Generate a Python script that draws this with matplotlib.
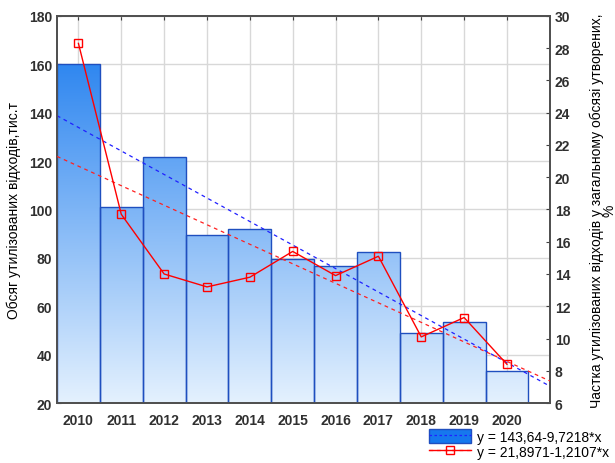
import matplotlib.pyplot as plt
import numpy as np
from matplotlib.colors import LinearSegmentedColormap
from matplotlib.patches import Patch
from matplotlib.lines import Line2D

# Data
years = [2010, 2011, 2012, 2013, 2014, 2015, 2016, 2017, 2018, 2019, 2020]
volume = [160.0, 101.0, 121.7, 89.5, 92.0, 79.6, 76.7, 82.6, 49.0, 53.6, 33.3]  # thousand t
share = [28.3, 17.7, 14.0, 13.2, 13.8, 15.4, 13.9, 15.1, 10.1, 11.3, 8.4]  # %
vol_fit = (143.64, -9.7218)
share_fit = (21.8971, -1.2107)
vol_label = "y = 143,64-9,7218*x"
share_label = "y = 21,8971-1,2107*x"

plt.rcParams['font.family'] = ['Liberation Sans', 'DejaVu Sans']

fig = plt.figure(figsize=(6.15, 4.64), dpi=100)
ax1 = fig.add_axes([0.0927, 0.1293, 0.894 - 0.0927, 0.9634 - 0.1293])
ax2 = ax1.twinx()

x = np.arange(1, len(years) + 1)

# bars with vertical gradient clipped to each bar
cmap = LinearSegmentedColormap.from_list('grad', ['#e4f1fe', '#1678ee'])
grad = np.linspace(0, 1, 256).reshape(-1, 1)
bars = ax1.bar(x, volume, width=1.0, bottom=0, facecolor='none',
               edgecolor='#1f4fbf', linewidth=1.0, zorder=3)
for b in bars:
    im = ax1.imshow(grad, cmap=cmap, origin='lower', aspect='auto',
                    extent=(0.5, 12.0, 20, 180), zorder=2)
    im.set_clip_path(b)
ax1.set_xlim(0.5, 12.0)
ax1.set_ylim(20, 180)
ax2.set_ylim(6, 30)

# trend lines
xt = np.array([0.5, 12.0])
ax1.plot(xt, vol_fit[0] + vol_fit[1] * xt, color='#2020ff', lw=0.9,
         ls=(0, (3, 3)), zorder=4)
ax2.plot(xt, share_fit[0] + share_fit[1] * xt, color='#ff2020', lw=0.9,
         ls=(0, (3, 3)), zorder=4)
ax2.plot(x, share, color='#ff0000', lw=1.0, marker='s', ms=6,
         mfc='none', mec='#ff0000', mew=1.0, zorder=5)

# grid
ax1.set_axisbelow(True)
ax1.grid(True, color='#d8d8d8', lw=1.0, zorder=0)

ax1.set_xticks(x)
ax1.set_xticklabels(years)
ax1.set_yticks(np.arange(20, 181, 20))
ax2.set_yticks(np.arange(6, 31, 2))

tick_kw = dict(direction='in', length=3, colors='#404040', labelsize=10)
ax1.tick_params(axis='both', top=True, **tick_kw)
ax1.tick_params(axis='x', pad=7)
ax2.tick_params(axis='y', **tick_kw)
for lab in ax1.get_xticklabels() + ax1.get_yticklabels() + ax2.get_yticklabels():
    lab.set_fontweight('bold')
    lab.set_color('#303030')

for ax in (ax1, ax2):
    for s in ax.spines.values():
        s.set_color('#505050')
        s.set_linewidth(1.3)

ax1.set_ylabel("Обсяг утилізованих відходів,тис.т", fontsize=10, labelpad=6)
ax2.set_ylabel("Частка утилізованих відходів у загальному обсязі утворених,\n%",
               fontsize=10, labelpad=14, rotation=90, linespacing=0.85)

# legend
h1 = (Patch(facecolor='#1678ee', edgecolor='#1f4fbf'),
      Line2D([], [], color='#2020ff', lw=0.9, ls=(0, (2, 2))))
h2 = (Line2D([], [], color='#ff2020', lw=0.9, ls=(0, (3, 3))),
      Line2D([], [], color='#ff0000', lw=1.0, marker='s', ms=6, mfc='none'))
fig.legend([h1, h2], [vol_label, share_label], loc='lower right',
           bbox_to_anchor=(1.01, -0.018), frameon=False, fontsize=10,
           handlelength=3.0, handleheight=1.1, labelspacing=0.05,
           handletextpad=0.4)

fig.savefig('out.png', dpi=100)
